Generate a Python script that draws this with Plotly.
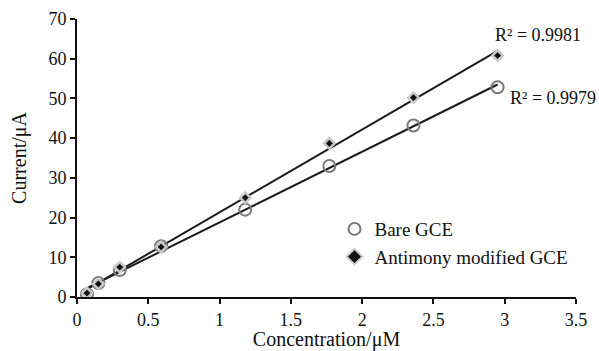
import numpy as np
import plotly.graph_objects as go

conc = [0.07, 0.15, 0.30, 0.59, 1.18, 1.77, 2.36, 2.95]
bare = [0.7, 3.5, 6.8, 12.8, 22.0, 33.0, 43.2, 52.8]
antimony = [1.0, 3.3, 7.5, 12.6, 25.0, 38.7, 50.2, 60.8]
r2_labels = ["R² = 0.9981", "R² = 0.9979"]

font = "Liberation Serif, Times New Roman, serif"

fig = go.Figure()

for ys in (antimony, bare):
    k, b = np.polyfit(conc, ys, 1)
    xs = [min(conc), max(conc)]
    fig.add_trace(go.Scatter(x=xs, y=[k * v + b for v in xs], mode="lines",
                             line=dict(color="#1a1a1a", width=2), showlegend=False,
                             hoverinfo="skip"))

fig.add_trace(go.Scatter(x=conc, y=bare, mode="markers", name="Bare GCE",
                         marker=dict(symbol="circle-open", size=12,
                                     color="#7a7a7a", line=dict(width=2, color="#7a7a7a"))))
fig.add_trace(go.Scatter(x=conc, y=antimony, mode="markers", name="Antimony modified GCE",
                         marker=dict(symbol="diamond", size=8, color="#111111",
                                     line=dict(width=2.5, color="#c8c8c8"))))

fig.add_annotation(x=2.95, y=61.5, text=r2_labels[0], showarrow=False,
                   xanchor="left", yanchor="middle", yshift=18, xshift=-5,
                   font=dict(family=font, size=18, color="#111111"))
fig.add_annotation(x=2.95, y=52.8, text=r2_labels[1], showarrow=False,
                   xanchor="left", yanchor="middle", xshift=10, yshift=-11,
                   font=dict(family=font, size=18, color="#111111"))

fig.update_layout(
    width=599, height=351,
    margin=dict(l=77, r=23, t=19, b=54),
    paper_bgcolor="white", plot_bgcolor="white",
    font=dict(family=font, size=18, color="#111111"),
    legend=dict(x=0.516, y=0.194, xanchor="left", yanchor="middle",
                bgcolor="rgba(0,0,0,0)", font=dict(family=font, size=19),
                tracegroupgap=0, itemsizing="constant", itemwidth=30),
)
fig.update_xaxes(range=[0, 3.5], dtick=0.5, tick0=0, showgrid=False, zeroline=False,
                 showline=True, linecolor="#111111", linewidth=2, automargin=False,
                 ticks="outside", ticklen=5, tickwidth=2, tickcolor="#111111",
                 tickfont=dict(size=18),
                 title=dict(text="Concentration/μM", font=dict(size=20), standoff=2))
fig.update_yaxes(range=[0, 70], dtick=10, showgrid=False, zeroline=False,
                 showline=True, linecolor="#111111", linewidth=2, automargin=False,
                 ticks="outside", ticklen=5, tickwidth=2, tickcolor="#111111",
                 tickfont=dict(size=18),
                 title=dict(text="Current/μA", font=dict(size=20), standoff=16))

fig.write_html("out.html")
